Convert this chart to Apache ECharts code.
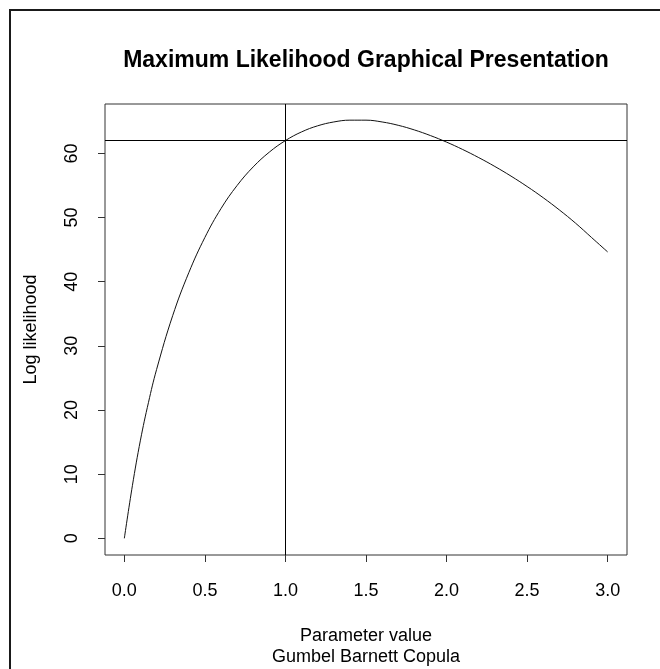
<!DOCTYPE html>
<html>
<head>
<meta charset="utf-8">
<script src="https://cdn.jsdelivr.net/npm/echarts@6/dist/echarts.min.js"></script>
<style>
html,body{margin:0;padding:0;background:#fff;}
#chart{width:660px;height:669px;}
</style>
</head>
<body>
<div id="chart"></div>
<script>
const chartTitle = 'Maximum Likelihood Graphical Presentation';
const xLabel = 'Parameter value';
const subLabel = 'Gumbel Barnett Copula';
const yLabel = 'Log likelihood';

const paramValues = [0, 0.05, 0.1, 0.15, 0.2, 0.3, 0.4, 0.5, 0.6, 0.7, 0.8, 0.9,
  1.0, 1.1, 1.2, 1.3, 1.4, 1.5, 1.6, 1.7, 1.8, 1.9, 2.0, 2.1, 2.2, 2.3, 2.4, 2.5, 2.6, 2.7, 2.8, 2.9, 3.0];
const logLik = [0, 8.2, 15.3, 21.2, 26.3, 34.7, 41.4, 46.9, 51.4, 55.0, 57.9, 60.2,
  62.0, 63.35, 64.3, 64.9, 65.18, 65.18, 64.9, 64.38, 63.66, 62.78, 61.76, 60.61, 59.34, 57.96, 56.46, 54.84, 53.09, 51.19, 49.14, 46.89, 44.64];

const xTicks = [0, 0.5, 1.0, 1.5, 2.0, 2.5, 3.0];
const yTicks = [0, 10, 20, 30, 40, 50, 60];
const refX = 1.0;
const refY = 62.0;

const FONT = '"Liberation Sans", Arial, sans-serif';

const chart = echarts.init(document.getElementById('chart'), null, {renderer: 'canvas'});
const option = {
  animation: false,
  backgroundColor: '#fff',
  graphic: [{
    type: 'rect',
    shape: {x: 10, y: 10, width: 700, height: 700},
    style: {fill: 'none', stroke: '#1a1a1a', lineWidth: 2},
    silent: true
  }],
  title: [{
    text: chartTitle,
    left: 366,
    textAlign: 'center',
    top: 49,
    padding: 0,
    textStyle: {fontFamily: FONT, fontSize: 23, fontWeight: 'bold', color: '#000'}
  }, {
    text: subLabel,
    left: 366,
    textAlign: 'center',
    top: 647,
    padding: 0,
    textStyle: {fontFamily: FONT, fontSize: 18, fontWeight: 'normal', color: '#000', lineHeight: 20}
  }],
  grid: {
    left: 105, right: 33, top: 104, bottom: 114,
    show: true, borderColor: '#333', borderWidth: 1, containLabel: false
  },
  xAxis: {
    type: 'value',
    min: -0.12, max: 3.12,
    name: xLabel,
    nameLocation: 'middle',
    nameGap: 72,
    nameTextStyle: {fontFamily: FONT, fontSize: 18, color: '#000'},
    axisLine: {show: false, onZero: false},
    axisTick: {show: true, length: 7, customValues: xTicks, lineStyle: {color: '#333', width: 1}},
    axisLabel: {
      show: true, customValues: xTicks, margin: 27,
      fontFamily: FONT, fontSize: 18, color: '#000',
      formatter: v => v.toFixed(1)
    },
    splitLine: {show: false}
  },
  yAxis: {
    type: 'value',
    min: -2.6, max: 67.7,
    name: yLabel,
    nameLocation: 'middle',
    nameGap: 65,
    nameRotate: 90,
    nameTextStyle: {fontFamily: FONT, fontSize: 18, color: '#000'},
    axisLine: {show: false, onZero: false},
    axisTick: {show: true, length: 7, customValues: yTicks, lineStyle: {color: '#333', width: 1}},
    axisLabel: {
      show: true, customValues: yTicks, margin: 24, rotate: 90,
      fontFamily: FONT, fontSize: 18, color: '#000'
    },
    splitLine: {show: false}
  },
  series: [{
    type: 'line',
    data: paramValues.map((x, i) => [x, logLik[i]]),
    smooth: 0.4,
    showSymbol: false,
    symbol: 'none',
    lineStyle: {color: '#111', width: 1},
    silent: true,
    markLine: {
      silent: true,
      symbol: ['none', 'none'],
      label: {show: false},
      lineStyle: {color: '#000', width: 1, type: 'solid'},
      data: [{xAxis: refX}, {yAxis: refY}]
    }
  }]
};
chart.setOption(option);
</script>
</body>
</html>
